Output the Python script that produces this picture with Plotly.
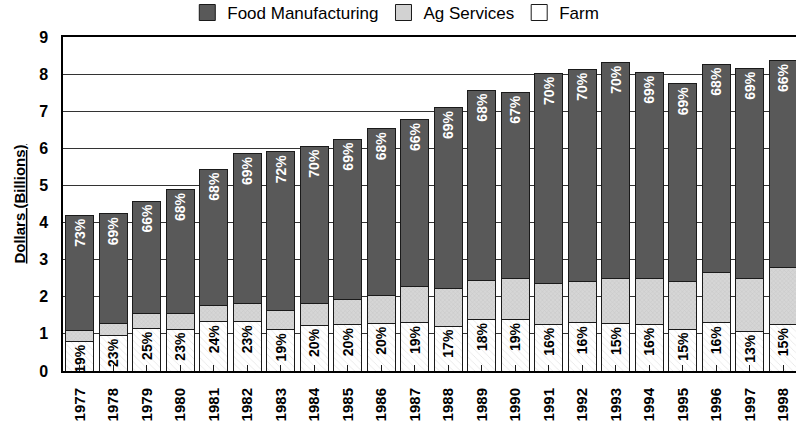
import plotly.graph_objects as go

years = [str(y) for y in range(1977, 1999)]
farm = [0.80, 0.96, 1.15, 1.13, 1.33, 1.33, 1.11, 1.23, 1.25, 1.29, 1.31,
        1.21, 1.39, 1.39, 1.26, 1.30, 1.28, 1.26, 1.13, 1.30, 1.07, 1.25]
ag_services = [0.30, 0.33, 0.39, 0.41, 0.43, 0.48, 0.53, 0.59, 0.67, 0.75, 0.98,
               1.01, 1.04, 1.11, 1.09, 1.12, 1.22, 1.23, 1.29, 1.36, 1.43, 1.53]
food_mfg = [3.10, 2.95, 3.04, 3.35, 3.68, 4.05, 4.27, 4.24, 4.33, 4.49, 4.49,
            4.88, 5.14, 5.01, 5.67, 5.71, 5.82, 5.56, 5.32, 5.61, 5.66, 5.59]
food_pct = [73, 69, 66, 68, 68, 69, 72, 70, 69, 68, 66, 69, 68, 67, 70, 70, 70, 69, 69, 68, 69, 66]
farm_pct = [19, 23, 25, 23, 24, 23, 19, 20, 20, 20, 19, 17, 18, 19, 16, 16, 15, 16, 15, 16, 13, 15]
y_ticks = [0, 1, 2, 3, 4, 5, 6, 7, 8, 9]

FONT = "Liberation Sans, Arial, sans-serif"
line = dict(color="#1a1a1a", width=1)
C_FOOD = "#595959"
C_AG = "#d2d2d2"
C_FARM = "white"

fig = go.Figure()
fig.add_trace(go.Bar(
    x=years, y=farm, name="Farm", showlegend=False,
    marker=dict(color=C_FARM, line=line,
                pattern=dict(shape="\\", fgcolor="#c8c8c8", bgcolor="white", size=5, solidity=0.15)),
    text=[f"{p}%" for p in farm_pct], textposition="inside", insidetextanchor="end",
    textangle=-90, constraintext="none",
    textfont=dict(family=FONT, size=14, color="black", weight="bold"),
))
fig.add_trace(go.Bar(
    x=years, y=ag_services, name="Ag Services", showlegend=False,
    marker=dict(color=C_AG, line=line,
                pattern=dict(shape="x", fgcolor="#b4b4b4", bgcolor="#d6d6d6", size=3, solidity=0.3)),
))
fig.add_trace(go.Bar(
    x=years, y=food_mfg, name="Food Manufacturing", showlegend=False,
    marker=dict(color=C_FOOD, line=line),
    text=[f"{p}%" for p in food_pct], textposition="inside", insidetextanchor="end",
    textangle=-90, constraintext="none",
    textfont=dict(family=FONT, size=14, color="white", weight="bold"),
))

# legend entries (larger square symbols)
for name, col in [("Food Manufacturing", C_FOOD), ("Ag Services", C_AG), ("Farm", C_FARM)]:
    fig.add_trace(go.Scatter(
        x=[None], y=[None], mode="markers", name=name,
        marker=dict(symbol="square", size=16, color=col, line=dict(color="#1a1a1a", width=1)),
    ))

fig.update_layout(
    width=796, height=423,
    margin=dict(l=63, r=0, t=37, b=52, autoexpand=False),
    barmode="stack", bargap=0.16,
    plot_bgcolor="white", paper_bgcolor="white",
    font=dict(family=FONT, color="black"),
    showlegend=True,
    legend=dict(orientation="h", x=0.454, xanchor="center", y=1.072, yanchor="middle",
                font=dict(family=FONT, size=17), traceorder="normal",
                itemsizing="trace", itemwidth=30, bgcolor="rgba(0,0,0,0)"),
    xaxis=dict(type="category", range=[-0.5, 21.38], tickangle=-90,
               tickfont=dict(family=FONT, size=15, weight="bold"),
               ticks="inside", ticklen=6, tickcolor="#1a1a1a",
               ticklabelstandoff=9, automargin=False,
               showline=True, linecolor="black", linewidth=2, mirror=True,
               showgrid=False),
    yaxis=dict(range=[0, 9], tickvals=y_ticks, ticks="",
               tickfont=dict(family=FONT, size=16, weight="bold"),
               ticklabelstandoff=10, automargin=False,
               showline=True, linecolor="black", linewidth=1.5, mirror=True,
               showgrid=True, gridcolor="#333333", gridwidth=1.2,
               zeroline=False,
               title=dict(text="<u>Dollars (Billions)</u>", standoff=10,
                          font=dict(family=FONT, size=15, weight="bold"))),
)

fig.write_html("out.html")
